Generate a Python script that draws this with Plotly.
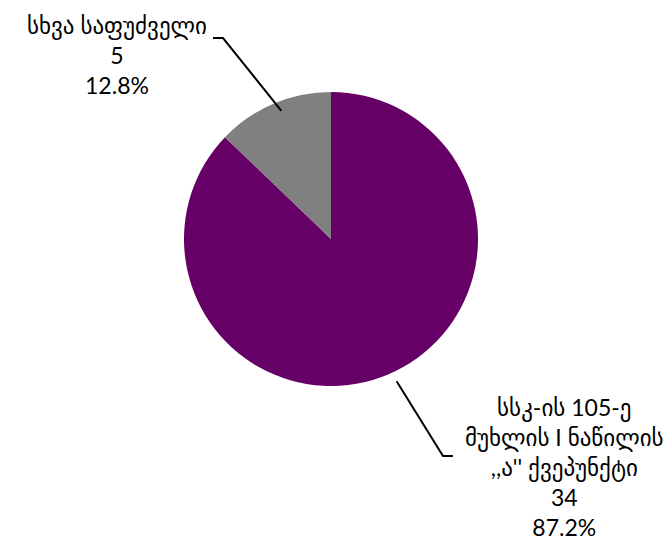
import math
import plotly.graph_objects as go

labels = ["სსკ-ის 105-ე<br>მუხლის I ნაწილის<br>,,ა'' ქვეპუნქტი", "სხვა საფუძველი"]
values = [34, 5]
colors = ["#660066", "#808080"]

W, H = 672, 554
CX, CY, R = 331, 238, 147  # pie center / radius in px
DX, DY = 8, 7  # plotly internal offset compensation

def px(x, y):
    return x / W, 1 - y / H

fig = go.Figure(go.Pie(
    labels=labels, values=values, sort=False, direction="clockwise", rotation=0,
    marker=dict(colors=colors, line=dict(width=0)),
    textinfo="none", hoverinfo="label+value+percent",
    domain=dict(x=[(CX - R - DX) / W, (CX + R - DX) / W],
                y=[1 - (CY + R - DY) / H, 1 - (CY - R - DY) / H]),
    showlegend=False,
))

total = sum(values)
font = dict(family="Lato, DejaVu Sans, sans-serif", size=23, color="black")

label_pos = [(556, 459), (109, 47)]
elbow = [((435, 448), (445, 448)), ((215, 30), (205, 30))]

shapes = []
annotations = []
start = 0.0
for i, v in enumerate(values):
    frac = v / total
    mid = (start + frac / 2) * 2 * math.pi
    start += frac
    ex = CX + R * math.sin(mid)
    ey = CY - R * math.cos(mid)
    (bx, by), (tx, ty) = elbow[i]
    p0 = px(ex, ey); p1 = px(bx, by); p2 = px(tx, ty)
    shapes.append(dict(type="path", xref="paper", yref="paper",
                       path=f"M {p0[0]},{p0[1]} L {p1[0]},{p1[1]} L {p2[0]},{p2[1]}",
                       line=dict(color="black", width=2)))
    lx, ly = px(*label_pos[i])
    annotations.append(dict(x=lx, y=ly, xref="paper", yref="paper", showarrow=False,
                            text=f"{labels[i]}<br>{v}<br>{frac*100:.1f}%",
                            font=font, align="center", xanchor="center", yanchor="middle"))

fig.update_layout(width=W, height=H, margin=dict(l=0, r=0, t=0, b=0),
                  paper_bgcolor="white", plot_bgcolor="white",
                  shapes=shapes, annotations=annotations)
fig.write_html("out.html")
